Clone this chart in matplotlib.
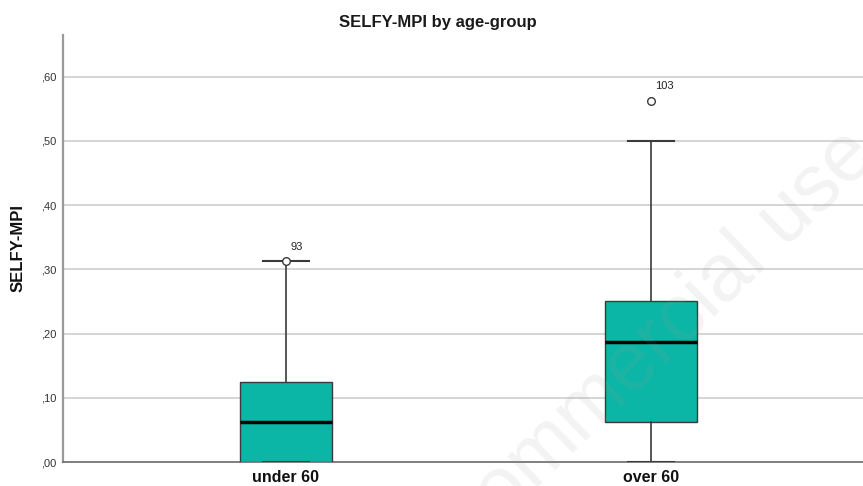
import matplotlib
matplotlib.use("Agg")
import matplotlib.pyplot as plt

# Summary statistics per age group (SPSS style boxplot)
groups = ["under 60", "over 60"]
q1 = [0.0, 0.0625]
medians = [0.0625, 0.1875]
q3 = [0.125, 0.25]
whisker_low = [0.0, 0.0]
whisker_high = [0.3125, 0.5]
outliers = [[0.3125], [0.5625]]
outlier_ids = [["93"], ["103"]]

y_ticks = [0.0, 0.1, 0.2, 0.3, 0.4, 0.5, 0.6]
y_tick_labels = [",00", ",10", ",20", ",30", ",40", ",50", ",60"]

BOX_COLOR = "#0cb6a6"
EDGE_COLOR = "#3a3a3a"

plt.rcParams["font.family"] = ["Liberation Sans", "DejaVu Sans"]

fig = plt.figure(figsize=(8.63, 4.86), dpi=100)
ax = fig.add_axes([63 / 863, 24 / 486, 800 / 863, 427 / 486])

stats = []
for i, name in enumerate(groups):
    stats.append({
        "label": name,
        "q1": q1[i],
        "med": medians[i],
        "q3": q3[i],
        "whislo": whisker_low[i],
        "whishi": whisker_high[i],
        "fliers": outliers[i],
    })

positions = [1, 2]
ax.bxp(
    stats,
    positions=positions,
    widths=0.25,
    capwidths=0.126,
    patch_artist=True,
    showfliers=True,
    boxprops=dict(facecolor=BOX_COLOR, edgecolor=EDGE_COLOR, linewidth=1.0),
    medianprops=dict(color="black", linewidth=2.5, solid_capstyle="butt"),
    whiskerprops=dict(color=EDGE_COLOR, linewidth=1.2),
    capprops=dict(color=EDGE_COLOR, linewidth=1.5),
    flierprops=dict(marker="o", markersize=5.5, markerfacecolor="white",
                    markeredgecolor=EDGE_COLOR, markeredgewidth=1.0),
    zorder=3,
)

# Case labels next to outliers
for pos, vals, ids in zip(positions, outliers, outlier_ids):
    for v, label in zip(vals, ids):
        ax.annotate(label, (pos, v), xytext=(3, 7), textcoords="offset points",
                    fontsize=8, color="#222222", ha="left", va="bottom")

ax.set_xlim(0.389, 2.581)
ax.set_ylim(0, 0.665)
ax.set_yticks(y_ticks)
ax.set_yticklabels(y_tick_labels, fontsize=8, color="#333333")
ax.set_xticks(positions)
ax.set_xticklabels(groups, fontsize=11.5, fontweight="bold", color="#111111")
ax.tick_params(axis="y", length=0, pad=5)
ax.tick_params(axis="x", length=0, pad=6)

for y in y_ticks[1:]:
    ax.axhline(y, color="#d2d2d2", linewidth=1.3, zorder=1)

for side in ["top", "right"]:
    ax.spines[side].set_visible(False)
ax.spines["left"].set_color("#9a9a9a")
ax.spines["left"].set_linewidth(1.6)
ax.spines["bottom"].set_color("#6a6a6a")
ax.spines["bottom"].set_linewidth(1.2)

fig.text(18 / 863, 1 - 248 / 486, "SELFY-MPI", fontsize=12, fontweight="bold",
         color="#111111", rotation=90, ha="center", va="center")
fig.text(438 / 863, 1 - 22 / 486, "SELFY-MPI by age-group", fontsize=12,
         fontweight="bold", color="#1a1a1a", ha="center", va="center")

# Faint diagonal watermark
fig.text(878 / 863, 1 - 158 / 486, "Non-commercial use", fontsize=58,
         color="#9a9a9a", alpha=0.12, rotation=44, rotation_mode="anchor",
         ha="right", va="baseline", zorder=10)

fig.savefig("out.png", dpi=100)
